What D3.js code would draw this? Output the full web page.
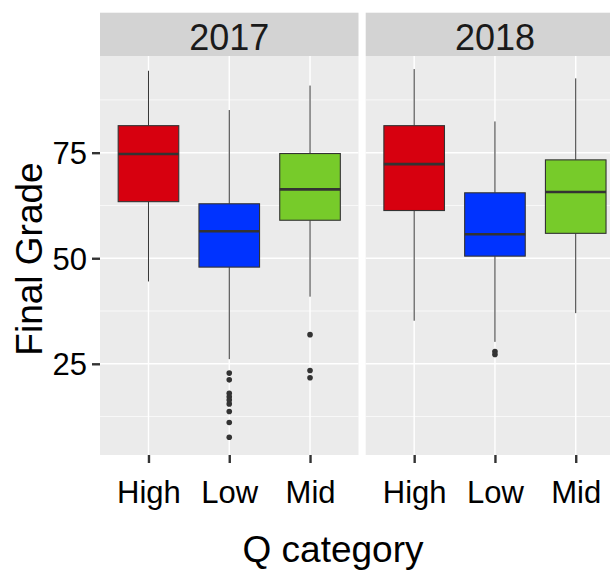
<!DOCTYPE html>
<html>
<head>
<meta charset="utf-8">
<script src="https://cdn.jsdelivr.net/npm/d3@7"></script>
<style>
  html, body { margin: 0; padding: 0; background: #fff; }
  svg { display: block; }
  text { font-family: "Liberation Sans", Arial, Helvetica, sans-serif; }
</style>
</head>
<body>
<svg id="chart" width="610" height="572"></svg>
<script>
// ---- data ----
const years = ["2017", "2018"];
const categories = ["High", "Low", "Mid"];
const fills = ["#d7000f", "#0033ff", "#77cb2a"];

const whiskerLow2017  = [44.5, 26.1, 40.9];
const q1_2017         = [63.4, 47.9, 59.0];
const median2017      = [74.7, 56.4, 66.3];
const q3_2017         = [81.4, 62.9, 74.8];
const whiskerHigh2017 = [94.4, 85.1, 90.9];
const outliers2017    = [[], [22.8, 21.2, 18.0, 17.2, 16.4, 15.5, 13.7, 11.1, 7.6], [31.9, 23.4, 21.7]];

const whiskerLow2018  = [35.2, 30.2, 37.0];
const q1_2018         = [61.3, 50.5, 55.9];
const median2018      = [72.3, 55.7, 65.7];
const q3_2018         = [81.4, 65.5, 73.3];
const whiskerHigh2018 = [94.8, 82.4, 92.6];
const outliers2018    = [[], [27.9, 27.2], []];

const yTicks = [25, 50, 75];
const yMinorTicks = [12.5, 37.5, 62.5, 87.5];
const yDomain = [3.4, 97.9];

const panelData = [
  { year: years[0], lo: whiskerLow2017, q1: q1_2017, med: median2017, q3: q3_2017, hi: whiskerHigh2017, out: outliers2017 },
  { year: years[1], lo: whiskerLow2018, q1: q1_2018, med: median2018, q3: q3_2018, hi: whiskerHigh2018, out: outliers2018 }
];

// ---- layout ----
const svg = d3.select("#chart");
const panelTop = 56, panelBottom = 455, stripTop = 12.7;
const panelW = 258.5, panelGap = 7.2, panelLeft = 100;
const textCol = "#000";
const darkLine = "#333333";

const y = d3.scaleLinear().domain(yDomain).range([panelBottom, panelTop]);

panelData.forEach((pd, i) => {
  const x0 = panelLeft + i * (panelW + panelGap);
  const x = d3.scalePoint().domain(categories).range([x0, x0 + panelW]).padding(0.6);
  const bw = x.step() * 0.75;
  const g = svg.append("g");

  // strip
  g.append("rect").attr("x", x0).attr("y", stripTop).attr("width", panelW).attr("height", panelTop - stripTop)
    .attr("fill", "#d3d3d3");
  g.append("text").attr("x", x0 + panelW / 2).attr("y", 50).attr("text-anchor", "middle")
    .attr("font-size", 36).attr("fill", "#1a1a1a").text(pd.year);

  // panel background
  g.append("rect").attr("x", x0).attr("y", panelTop).attr("width", panelW).attr("height", panelBottom - panelTop)
    .attr("fill", "#ebebeb");

  // grid
  g.selectAll(".minor").data(yMinorTicks).join("line")
    .attr("x1", x0).attr("x2", x0 + panelW).attr("y1", d => y(d)).attr("y2", d => y(d))
    .attr("stroke", "#fff").attr("stroke-width", 0.7);
  g.selectAll(".major").data(yTicks).join("line")
    .attr("x1", x0).attr("x2", x0 + panelW).attr("y1", d => y(d)).attr("y2", d => y(d))
    .attr("stroke", "#fff").attr("stroke-width", 1.4);
  g.selectAll(".vmajor").data(categories).join("line")
    .attr("x1", d => x(d)).attr("x2", d => x(d)).attr("y1", panelTop).attr("y2", panelBottom)
    .attr("stroke", "#fff").attr("stroke-width", 1.4);

  // boxes
  categories.forEach((c, k) => {
    const cx = x(c);
    g.append("line").attr("x1", cx).attr("x2", cx).attr("y1", y(pd.q3[k])).attr("y2", y(pd.hi[k]))
      .attr("stroke", darkLine).attr("stroke-width", 1);
    g.append("line").attr("x1", cx).attr("x2", cx).attr("y1", y(pd.q1[k])).attr("y2", y(pd.lo[k]))
      .attr("stroke", darkLine).attr("stroke-width", 1);
    g.append("rect").attr("x", cx - bw / 2).attr("y", y(pd.q3[k])).attr("width", bw)
      .attr("height", y(pd.q1[k]) - y(pd.q3[k]))
      .attr("fill", fills[k]).attr("stroke", darkLine).attr("stroke-width", 1.1);
    g.append("line").attr("x1", cx - bw / 2).attr("x2", cx + bw / 2).attr("y1", y(pd.med[k])).attr("y2", y(pd.med[k]))
      .attr("stroke", darkLine).attr("stroke-width", 2.6);
    g.selectAll(null).data(pd.out[k]).join("circle")
      .attr("cx", cx).attr("cy", d => y(d)).attr("r", 2.8).attr("fill", darkLine);
  });

  // x axis
  const xa = svg.append("g").attr("transform", `translate(0,${panelBottom})`)
    .call(d3.axisBottom(x).tickSize(8).tickPadding(4).tickSizeOuter(0));
  xa.select(".domain").remove();
  xa.selectAll(".tick line").attr("stroke", darkLine).attr("stroke-width", 2.4);
  xa.selectAll(".tick text").attr("y", 48).attr("dy", 0).attr("font-size", 31)
    .attr("fill", textCol).attr("font-family", "Liberation Sans, Arial, sans-serif");
});

// y axis
const ya = svg.append("g").attr("transform", `translate(${panelLeft},0)`)
  .call(d3.axisLeft(y).tickValues(yTicks).tickSize(8).tickPadding(5).tickSizeOuter(0));
ya.select(".domain").remove();
ya.selectAll(".tick line").attr("stroke", darkLine).attr("stroke-width", 2.4);
ya.selectAll(".tick text").attr("font-size", 31).attr("fill", textCol).attr("dy", "0.36em")
  .attr("font-family", "Liberation Sans, Arial, sans-serif");

// axis titles
svg.append("text").attr("x", 333).attr("y", 562).attr("text-anchor", "middle")
  .attr("font-size", 37).attr("fill", textCol).text("Q category");
svg.append("text").attr("transform", "translate(42,259) rotate(-90)").attr("text-anchor", "middle")
  .attr("font-size", 37).attr("fill", textCol).text("Final Grade");
</script>
</body>
</html>
